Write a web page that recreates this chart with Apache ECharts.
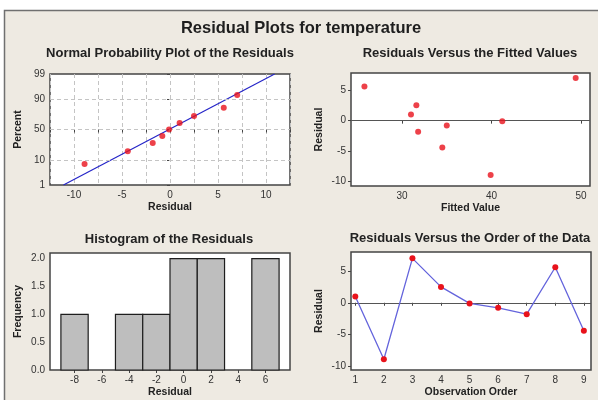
<!DOCTYPE html>
<html><head><meta charset="utf-8">
<script src="https://cdn.jsdelivr.net/npm/echarts@6/dist/echarts.min.js"></script>
<style>html,body{margin:0;padding:0;background:#fff}#c{width:598px;height:400px}</style>
</head><body><div id="c"></div>
<script>
// ---- data ----
const residuals = [1.0, -8.9, 7.0, 2.5, -0.1, -0.8, -1.8, 5.6, -4.4];
const fittedValues = [31.0, 39.9, 49.4, 31.6, 41.2, 35.0, 31.8, 25.8, 34.5];
const observationOrder = [1, 2, 3, 4, 5, 6, 7, 8, 9];
const sortedResiduals = [-8.9, -4.4, -1.8, -0.8, -0.1, 1.0, 2.5, 5.6, 7.0];
const normalPercents = [7.4, 18.1, 28.7, 39.4, 50.0, 60.6, 71.3, 81.9, 92.6];
const fitLineResidual = [-11.1, 10.9];
const fitLinePercent = [1, 99];
const percentTicks = [1, 10, 50, 90, 99];
const percentGrid = [10, 50, 90];
const histBinCenters = [-8, -6, -4, -2, 0, 2, 4, 6];
const histCounts = [1, 0, 1, 1, 2, 2, 0, 2];
const histBinWidth = 2;
const histXTicks = [-8, -6, -4, -2, 0, 2, 4, 6];
const histYTicks = [0, 0.5, 1.0, 1.5, 2.0];
const residualTicks = [-10, -5, 0, 5];
const fittedTicks = [30, 40, 50];
const orderTicks = [1, 2, 3, 4, 5, 6, 7, 8, 9];

// inverse normal CDF (normal probability scale)
function probit(p) {
  const a=[-3.969683028665376e+01,2.209460984245205e+02,-2.759285104469687e+02,1.383577518672690e+02,-3.066479806614716e+01,2.506628277459239e+00];
  const b=[-5.447609879822406e+01,1.615858368580409e+02,-1.556989798598866e+02,6.680131188771972e+01,-1.328068155288572e+01];
  const c=[-7.784894002430293e-03,-3.223964580411365e-01,-2.400758277161838e+00,-2.549732539343734e+00,4.374664141464968e+00,2.938163982698783e+00];
  const d=[7.784695709041462e-03,3.224671290700398e-01,2.445134137142996e+00,3.754408661907416e+00];
  const pl = 0.02425, ph = 1 - pl;
  if (p < pl) { const q = Math.sqrt(-2*Math.log(p)); return (((((c[0]*q+c[1])*q+c[2])*q+c[3])*q+c[4])*q+c[5])/((((d[0]*q+d[1])*q+d[2])*q+d[3])*q+1); }
  if (p <= ph) { const q = p - 0.5, r = q*q; return (((((a[0]*r+a[1])*r+a[2])*r+a[3])*r+a[4])*r+a[5])*q/(((((b[0]*r+b[1])*r+b[2])*r+b[3])*r+b[4])*r+1); }
  const q = Math.sqrt(-2*Math.log(1-p)); return -(((((c[0]*q+c[1])*q+c[2])*q+c[3])*q+c[4])*q+c[5])/((((d[0]*q+d[1])*q+d[2])*q+d[3])*q+1);
}
const z = p => probit(p / 100);

const FONT = 'Liberation Sans';
const RED = '#E8121B';
const labelStyle = { fontSize: 10, color: '#333', fontFamily: FONT, margin: 5 };
const nameStyle = { fontSize: 10.5, fontWeight: 'bold', color: '#222', fontFamily: FONT };
const tickStyle = { show: true, length: 3, lineStyle: { color: '#444' } };
const panelTitle = { textAlign: 'center', textVerticalAlign: 'middle', fontSize: 13, fontWeight: 'bold', fill: '#222', fontFamily: FONT };

function xAxis(gi, name, min, max, extra) {
  return Object.assign({
    type: 'value', gridIndex: gi, min, max, name, nameLocation: 'middle', nameGap: 17,
    nameTextStyle: nameStyle, axisLine: { show: false }, axisTick: tickStyle,
    axisLabel: Object.assign({}, labelStyle), splitLine: { show: false }
  }, extra || {});
}
function yAxis(gi, name, min, max, extra) {
  return Object.assign({
    type: 'value', gridIndex: gi, min, max, name, nameLocation: 'middle', nameGap: 26, nameRotate: 90,
    nameTextStyle: nameStyle, axisLine: { show: false }, axisTick: tickStyle,
    axisLabel: Object.assign({}, labelStyle), splitLine: { show: false }
  }, extra || {});
}

const gridBase = { show: true, backgroundColor: '#fff', borderColor: '#444', borderWidth: 1.5, containLabel: false };
const zeroLine = { silent: true, symbol: 'none', label: { show: false },
  lineStyle: { color: '#555', width: 1.2, type: 'solid' }, data: [{ yAxis: 0 }] };

const option = {
  animation: false,
  graphic: [
    { type: 'rect', z: -100, shape: { x: 4.5, y: 10.5, width: 620, height: 420 },
      style: { fill: '#EEEAE2', stroke: '#707070', lineWidth: 1.5 } },
    { type: 'text', z: 100, x: 301, y: 28, style: { text: 'Residual Plots for temperature', textAlign: 'center', textVerticalAlign: 'middle', fontSize: 16.5, fontWeight: 'bold', fill: '#1e1e1e', fontFamily: FONT } },
    { type: 'text', z: 100, x: 170, y: 53, style: Object.assign({ text: 'Normal Probability Plot of the Residuals' }, panelTitle) },
    { type: 'text', z: 100, x: 470, y: 53, style: Object.assign({ text: 'Residuals Versus the Fitted Values' }, panelTitle) },
    { type: 'text', z: 100, x: 169, y: 239, style: Object.assign({ text: 'Histogram of the Residuals' }, panelTitle) },
    { type: 'text', z: 100, x: 470, y: 238, style: Object.assign({ text: 'Residuals Versus the Order of the Data' }, panelTitle) }
  ],
  grid: [
    Object.assign({ left: 50, top: 74, width: 240, height: 111 }, gridBase),
    Object.assign({ left: 351, top: 73, width: 239, height: 113 }, gridBase),
    Object.assign({ left: 50, top: 253, width: 240, height: 117 }, gridBase),
    Object.assign({ left: 351, top: 252, width: 240, height: 118 }, gridBase)
  ],
  xAxis: [
    xAxis(0, 'Residual', -12.5, 12.5, {
      interval: 2.5,
      axisLabel: Object.assign({}, labelStyle, { formatter: v => (Math.abs(v % 5) < 1e-9 ? String(v) : '') }),
      splitLine: { show: true, lineStyle: { color: '#c4c4c4', type: [4, 3], width: 1 } }
    }),
    xAxis(1, 'Fitted Value', 24.3, 51.0, {
      axisLabel: Object.assign({}, labelStyle, { customValues: fittedTicks }),
      axisTick: Object.assign({}, tickStyle, { customValues: fittedTicks })
    }),
    xAxis(2, 'Residual', -9.8, 7.8, {
      axisLabel: Object.assign({}, labelStyle, { customValues: histXTicks }),
      axisTick: Object.assign({}, tickStyle, { customValues: histXTicks })
    }),
    xAxis(3, 'Observation Order', 0.85, 9.25, {
      axisLabel: Object.assign({}, labelStyle, { customValues: orderTicks }),
      axisTick: Object.assign({}, tickStyle, { customValues: orderTicks })
    })
  ],
  yAxis: [
    yAxis(0, 'Percent', z(1), z(99), {
      axisLabel: Object.assign({}, labelStyle, {
        customValues: percentTicks.map(z),
        formatter: v => { let best = percentTicks[0], bd = Infinity; percentTicks.forEach(p => { const d = Math.abs(z(p) - v); if (d < bd) { bd = d; best = p; } }); return String(best); }
      }),
      axisTick: Object.assign({}, tickStyle, { customValues: percentTicks.map(z) })
    }),
    yAxis(1, 'Residual', -10.7, 7.8, {
      axisLabel: Object.assign({}, labelStyle, { customValues: residualTicks }),
      axisTick: Object.assign({}, tickStyle, { customValues: residualTicks })
    }),
    yAxis(2, 'Frequency', 0, 2.1, {
      axisLabel: Object.assign({}, labelStyle, { customValues: histYTicks, formatter: v => v.toFixed(1) }),
      axisTick: Object.assign({}, tickStyle, { customValues: histYTicks })
    }),
    yAxis(3, 'Residual', -10.6, 8.0, {
      axisLabel: Object.assign({}, labelStyle, { customValues: residualTicks }),
      axisTick: Object.assign({}, tickStyle, { customValues: residualTicks })
    })
  ],
  series: [
    { type: 'line', xAxisIndex: 0, yAxisIndex: 0, data: [], z: 1, silent: true,
      markLine: { silent: true, symbol: 'none', label: { show: false },
        lineStyle: { color: '#c4c4c4', type: [4, 3], width: 1 },
        data: percentGrid.map(p => ({ yAxis: z(p) })) } },
    { type: 'line', xAxisIndex: 0, yAxisIndex: 0, z: 3, showSymbol: false, symbol: 'none',
      lineStyle: { color: '#2525C8', width: 1.2 },
      data: fitLineResidual.map((r, i) => [r, z(fitLinePercent[i])]) },
    { type: 'scatter', xAxisIndex: 0, yAxisIndex: 0, z: 5, symbolSize: 6, itemStyle: { color: RED },
      data: sortedResiduals.map((r, i) => [r, z(normalPercents[i])]) },
    { type: 'scatter', xAxisIndex: 1, yAxisIndex: 1, z: 5, symbolSize: 6, itemStyle: { color: RED },
      data: fittedValues.map((f, i) => [f, residuals[i]]), markLine: zeroLine },
    { type: 'custom', xAxisIndex: 2, yAxisIndex: 2, z: 3,
      data: histBinCenters.map((cx, i) => [cx, histCounts[i]]),
      encode: { x: 0, y: 1 },
      renderItem: (params, api) => {
        const cx = api.value(0), cnt = api.value(1);
        if (!(cnt > 0)) return null;
        const p1 = api.coord([cx - histBinWidth / 2, cnt]);
        const p2 = api.coord([cx + histBinWidth / 2, 0]);
        return { type: 'rect', shape: { x: p1[0], y: p1[1], width: p2[0] - p1[0], height: p2[1] - p1[1] },
          style: { fill: '#BEBEBE', stroke: '#1e1e1e', lineWidth: 1.2 } };
      } },
    { type: 'line', xAxisIndex: 3, yAxisIndex: 3, z: 5, symbol: 'circle', symbolSize: 6, showSymbol: true,
      lineStyle: { color: '#6464DC', width: 1.3 }, itemStyle: { color: RED },
      data: observationOrder.map((o, i) => [o, residuals[i]]), markLine: zeroLine }
  ]
};
const chart = echarts.init(document.getElementById('c'), null, { renderer: 'canvas' });
chart.setOption(option);
</script></body></html>
